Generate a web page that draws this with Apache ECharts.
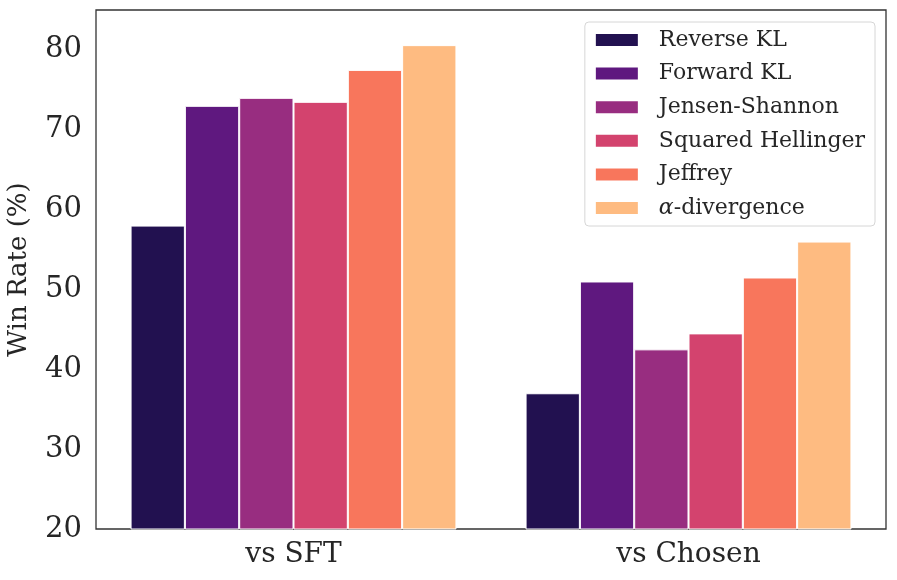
<!DOCTYPE html>
<html><head><meta charset="utf-8">
<script src="https://cdn.jsdelivr.net/npm/echarts@6/dist/echarts.min.js"></script>
<style>html,body{margin:0;padding:0;background:#fff}#c{width:897px;height:580px}</style>
</head><body><div id="c"></div>
<script>
const categories = ['vs SFT', 'vs Chosen'];
const seriesNames = ['Reverse KL', 'Forward KL', 'Jensen-Shannon', 'Squared Hellinger', 'Jeffrey', 'α-divergence'];
const reverseKL = [58, 37];
const forwardKL = [73, 51];
const jensenShannon = [74, 42.5];
const squaredHellinger = [73.5, 44.5];
const jeffrey = [77.5, 51.5];
const alphaDiv = [80.6, 56];
const yTicks = [20, 30, 40, 50, 60, 70, 80];
const colors = ['#221150', '#5f187f', '#982d80', '#d3436e', '#f8765c', '#febb81'];
const values = [reverseKL, forwardKL, jensenShannon, squaredHellinger, jeffrey, alphaDiv];
const FONT = '"DejaVu Serif", serif';
const chart = echarts.init(document.getElementById('c'), null, {renderer: 'canvas'});
chart.setOption({
  animation: false,
  textStyle: {fontFamily: FONT},
  grid: {left: 96, right: 11, top: 10, bottom: 51, containLabel: false, outerBoundsMode: 'none',
    show: true, borderColor: '#333', borderWidth: 1.3, backgroundColor: 'transparent'},
  legend: {
    orient: 'vertical', right: 22, top: 22,
    itemWidth: 44, itemHeight: 14, itemGap: 11.6,
    padding: [7, 10, 7, 9],
    borderColor: '#d6d6d6', borderWidth: 1, borderRadius: 4,
    icon: 'rect',
    textStyle: {fontFamily: FONT, fontSize: 22, lineHeight: 22, color: '#262626', padding: [0, 0, 0, 15],
      rich: {i: {fontFamily: FONT, fontStyle: 'italic', fontSize: 22, lineHeight: 22, color: '#262626'}}},
    formatter: function (n) { return n === 'α-divergence' ? '{i|α}-divergence' : n; },
    data: seriesNames
  },
  xAxis: {
    type: 'category', data: categories,
    axisLine: {show: false}, axisTick: {show: false},
    axisLabel: {fontFamily: FONT, fontSize: 28, color: '#262626', margin: 12}
  },
  yAxis: {
    type: 'value', min: 20, max: 85, interval: 10,
    name: 'Win Rate (%)', nameLocation: 'middle', nameGap: 64,
    nameTextStyle: {fontFamily: FONT, fontSize: 26, color: '#262626'},
    splitLine: {show: false}, axisLine: {show: false}, axisTick: {show: false},
    axisLabel: {fontFamily: FONT, fontSize: 29, color: '#262626', margin: 14,
      formatter: function (v) { return yTicks.indexOf(v) >= 0 ? String(v) : ''; }}
  },
  series: seriesNames.map((n, i) => ({
    name: n, type: 'bar', data: values[i],
    barGap: '0%', barCategoryGap: '17.5%',
    itemStyle: {color: colors[i], borderColor: '#ffffff', borderWidth: 1}
  }))
});
</script></body></html>
